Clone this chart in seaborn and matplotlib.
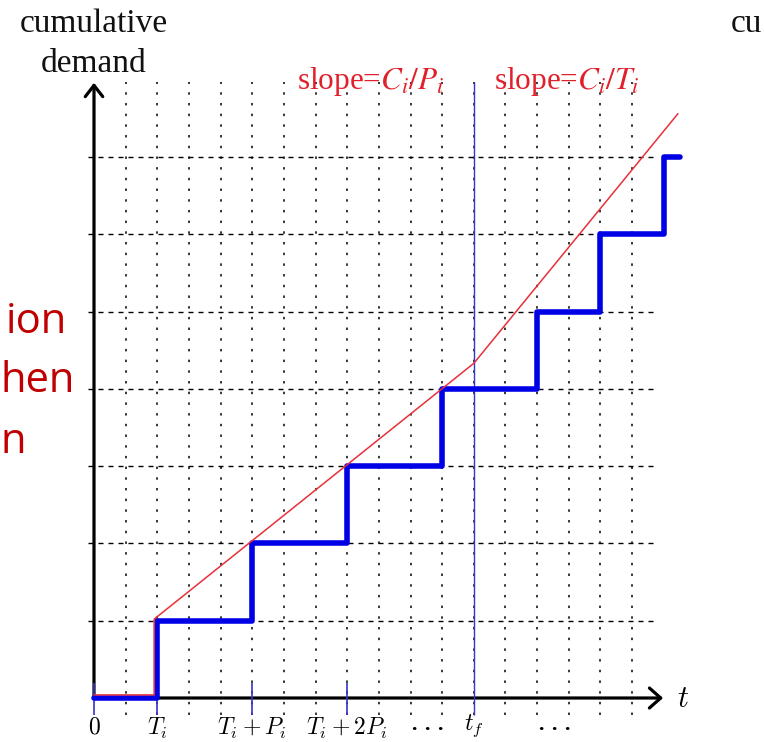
import matplotlib
matplotlib.use("Agg")
import matplotlib.pyplot as plt
import seaborn as sns
import pandas as pd
import numpy as np

# ---- data ----
step_t = [0, 2, 5, 8, 11, 14, 16, 18, 18.5]          # job releases (t)
step_demand = [0, 1, 2, 3, 4, 5, 6, 7, 7]             # cumulative demand
bound_t = [0, 1.9, 1.9, 12, 18.45]                    # red bound curve
bound_val = [0.04, 0.04, 1.02, 4.33, 7.56]
grid_t = list(range(1, 18))                            # vertical dotted grid
grid_level = list(range(1, 8))                         # horizontal dashed grid
tick_t = [0, 2, 5, 8]                                  # short blue ticks
t_f = 12
label_t = [0, 2, 5, 8, 12]
label_txt = [r"$\mathbf{0}$", r"$T_i$", r"$T_i+P_i$", r"$T_i+2P_i$", r"$t_f$"]
dots_t = [10.55, 14.55]

sns.set_style("white")
plt.rcParams["font.family"] = ["Liberation Serif", "DejaVu Serif"]

fig = plt.figure(figsize=(7.64, 7.42), dpi=100)
ax = fig.add_axes([0, 0, 1, 1])

# grid
ax.vlines(grid_t, -0.22, 7.97, colors="black", linewidth=1.1,
          linestyles=(0, (1.6, 5.4)), zorder=1)
ax.hlines(grid_level, -0.19, 17.66, colors="black", linewidth=1.0,
          linestyles=(0, (3.6, 3.6)), zorder=1)

# axes arrows
ax.annotate("", xy=(0, 7.96), xytext=(0, 0),
            arrowprops=dict(arrowstyle="->,head_length=0.45,head_width=0.35",
                            lw=2.3, color="black", shrinkA=0, shrinkB=0,
                            mutation_scale=18), zorder=3)
ax.annotate("", xy=(17.98, 0), xytext=(0, 0),
            arrowprops=dict(arrowstyle="->,head_length=0.45,head_width=0.4",
                            lw=2.3, color="black", shrinkA=0, shrinkB=0,
                            mutation_scale=18), zorder=3)

# blue ticks and t_f line
ax.vlines(tick_t, -0.22, 0.19, colors="#3535c8", linewidth=1.2, zorder=4)
ax.vlines([t_f], -0.22, 7.97, colors="#3535c8", linewidth=1.0, zorder=4)

# blue step demand
df_step = pd.DataFrame({"t": step_t, "demand": step_demand})
sns.lineplot(data=df_step, x="t", y="demand", ax=ax, drawstyle="steps-post",
             color="#0000e6", linewidth=4.0, estimator=None, sort=False, zorder=5)

# red bound
df_bound = pd.DataFrame({"t": bound_t, "val": bound_val})
sns.lineplot(data=df_bound, x="t", y="val", ax=ax, color="#e8303a",
             linewidth=1.1, estimator=None, sort=False, zorder=6)
ax.set_xlim(-94 / 31.65, (764 - 94) / 31.65)
ax.set_ylim(-(742 - 698) / 77.29, 698 / 77.29)
ax.axis("off")

# bottom labels
for pos, txt in zip(label_t, label_txt):
    yy = -0.36 if txt == r"$t_f$" else -0.39
    ax.text(pos, yy, txt, ha="center", va="center", fontsize=17,
            math_fontfamily="cm", color="black")
for pos in dots_t:
    ax.text(pos, -0.42, "\u00b7 \u00b7 \u00b7", ha="center", va="center",
            fontsize=16, color="black", fontweight="bold")
ax.text(18.6, -0.02, r"$t$", ha="center", va="center", fontsize=22,
        math_fontfamily="cm", color="black")

# slope labels
ax.text(8.75, 7.98, r"slope=$C_i/P_i$", ha="center", va="center", fontsize=22.5,
        math_fontfamily="stix", color="#e0202a")
ax.text(14.95, 7.98, r"slope=$C_i/T_i$", ha="center", va="center", fontsize=22.5,
        math_fontfamily="stix", color="#e0202a")

# y label
fig.text(94 / 764, 1 - 24 / 742, "cumulative", ha="center", va="center",
         fontsize=24, color="#111111")
fig.text(94 / 764, 1 - 64 / 742, "demand", ha="center", va="center",
         fontsize=24, color="#111111")
fig.text(731 / 764, 1 - 24 / 742, "cu", ha="left", va="center",
         fontsize=24, color="#111111")

# slide text on the left edge
for txt, xl, yb in [("ion", 6, 333), ("hen", 1, 392), ("n", 1, 453)]:
    fig.text(xl / 764, 1 - yb / 742, txt, ha="left", va="baseline",
             fontsize=30, color="#c00000", family=["Open Sans", "DejaVu Sans"])

fig.savefig("out.png", dpi=100)
